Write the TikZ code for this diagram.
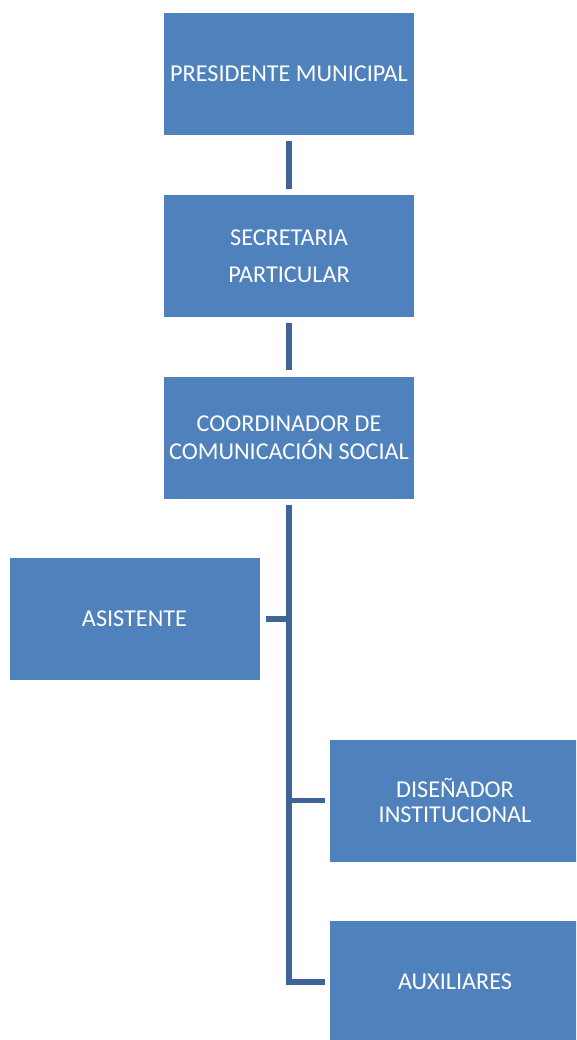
\documentclass[tikz,border=0pt]{standalone}
\usepackage{fontspec}
\setmainfont{Carlito}
\definecolor{boxblue}{HTML}{4F81BD}
\definecolor{lineblue}{HTML}{3F6598}
\begin{document}
\begin{tikzpicture}[x=1pt,y=-1pt,
  orgbox/.style={fill=boxblue, draw=none, minimum width=250pt, minimum height=122pt,
     inner sep=0pt, text=white, align=center, font=\fontsize{24.2}{28}\selectfont},
  link/.style={draw=lineblue, line width=5.5pt, line cap=butt, line join=miter}]
\useasboundingbox (0,0) rectangle (576,1040);
\begin{scope}
\clip (0,0) rectangle (576,1040);
\node[orgbox] (pres) at (289,74) {PRESIDENTE MUNICIPAL};
\node[orgbox, font=\fontsize{24.2}{37}\selectfont] (sec) at (289,256) {SECRETARIA\\PARTICULAR};
\node[orgbox] (coord) at (289,437.5) {COORDINADOR DE\\COMUNICACIÓN SOCIAL};
\node[orgbox] (asis) at (134.5,619) {ASISTENTE};
\node[orgbox, font=\fontsize{24.2}{25.5}\selectfont] (dis) at (455,800.5) {DISEÑADOR\\INSTITUCIONAL};
\node[orgbox] (aux) at (455,982) {AUXILIARES};
\end{scope}
\draw[link, shorten <=6pt, shorten >=6pt] (pres) -- (sec);
\draw[link, shorten <=6pt, shorten >=6pt] (sec) -- (coord);
\draw[link, shorten <=6pt, shorten >=5pt] (coord.south) -- (coord.south |- aux.west) -- (aux.west);
\draw[link, shorten >=6pt] (coord.south |- asis.east) -- (asis.east);
\draw[link, shorten >=5pt] (coord.south |- dis.west) -- (dis.west);
\end{tikzpicture}
\end{document}
